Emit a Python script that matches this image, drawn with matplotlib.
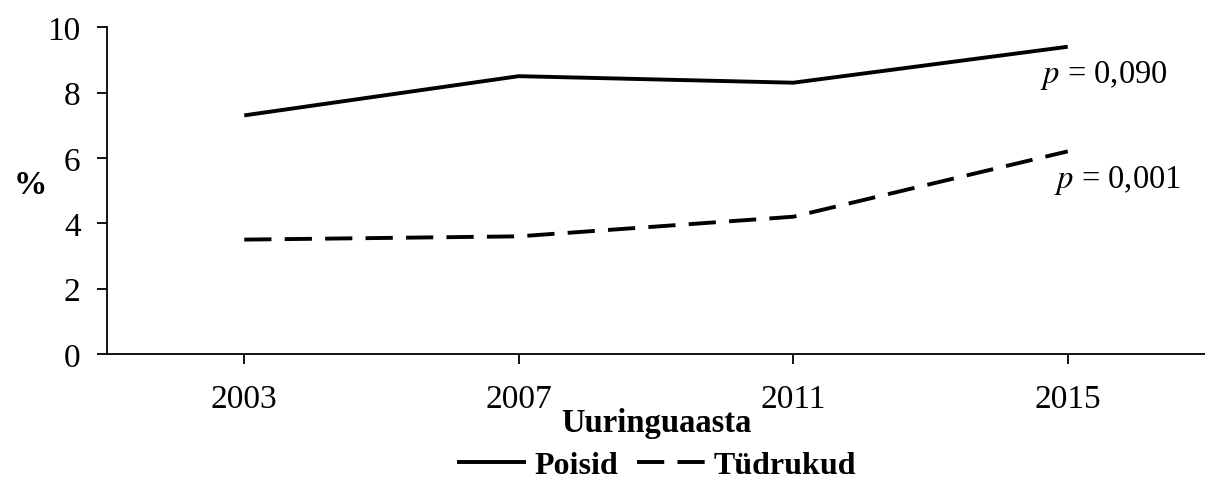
import numpy as np
import matplotlib.pyplot as plt

plt.rcParams['font.family'] = ['Liberation Serif', 'DejaVu Serif']

years = ['2003', '2007', '2011', '2015']
poisid = [7.3, 8.5, 8.3, 9.4]
tudrukud = [3.5, 3.6, 4.2, 6.2]
p_labels = ['0,090', '0,001']

fig = plt.figure(figsize=(12.05, 4.85), dpi=100)
ax = fig.add_axes([0.0888, 0.268, 0.9112, 0.674])

x = np.arange(len(years))
ax.plot(x, poisid, color='black', lw=2.8, label='Poisid', solid_capstyle='butt')
ax.plot(x, tudrukud, color='black', lw=2.8, dashes=(7, 3.4), label='Tüdrukud',
        dash_capstyle='butt')

ax.set_xlim(-0.5, len(years) - 0.5)
ax.set_ylim(0, 10)
ax.set_yticks(range(0, 11, 2))
ax.set_xticks(x)
ax.set_xticklabels(years)
ax.tick_params(axis='both', labelsize=24, length=7, width=1.3, direction='out')
ax.tick_params(axis='x', pad=14)
ax.tick_params(axis='y', pad=12)

for s in ['top', 'right']:
    ax.spines[s].set_visible(False)
for s in ['left', 'bottom']:
    ax.spines[s].set_linewidth(1.3)

ax.set_xlabel('Uuringuaasta', fontsize=23.5, fontweight='bold', labelpad=-5)
fig.text(0.011, 0.617, '%', fontsize=24, fontweight='bold', ha='left', va='center')

ax.text(x[-1] - 0.1, poisid[-1] - 0.85, r'$p$ = ' + p_labels[0], fontsize=23.5,
        ha='left', va='center', math_fontfamily='stix')
ax.text(x[-1] - 0.05, tudrukud[-1] - 0.85, r'$p$ = ' + p_labels[1], fontsize=23.5,
        ha='left', va='center', math_fontfamily='stix')

leg = fig.legend(loc='center', bbox_to_anchor=(0.545, 0.038), ncol=2, frameon=False,
                 prop={'size': 23, 'weight': 'bold'}, handlelength=2.15,
                 handletextpad=0.25, columnspacing=0.6)

fig.savefig('out.png', dpi=100)
